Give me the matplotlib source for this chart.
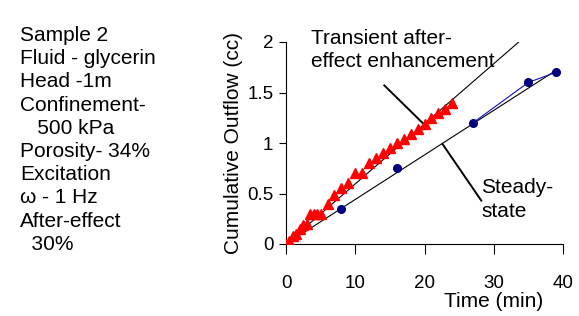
import numpy as np
import matplotlib
matplotlib.use('Agg')
import matplotlib.pyplot as plt

plt.rcParams['font.family'] = ['Liberation Sans', 'DejaVu Sans']

# transient (after-effect) run, red triangles
t_trans = [0, 0.5, 1, 1.5, 2, 2.5, 3, 3.5, 4, 4.5, 5, 6, 7, 8, 9, 10, 11,
           12, 13, 14, 15, 16, 17, 18, 19, 20, 21, 22, 23, 24]
q_trans = [0, 0.03, 0.08, 0.1, 0.15, 0.19, 0.2, 0.3, 0.3, 0.3, 0.3, 0.4, 0.49,
           0.55, 0.6, 0.7, 0.7, 0.8, 0.85, 0.9, 0.95, 1.0, 1.04, 1.09, 1.14,
           1.19, 1.25, 1.3, 1.34, 1.4]

# steady-state run, blue circles
t_steady = [0, 8, 16, 27, 35, 39]
q_steady = [0, 0.35, 0.75, 1.2, 1.6, 1.7]

# fitted trend lines (slope cc/min, end time)
fit_trans = (0.0595, 33.6)
fit_steady = (0.0441, 39.2)

info = ('Sample 2\nFluid - glycerin\nHead -1m\nConfinement-\n   500 kPa\n'
        'Porosity- 34%\nExcitation\nω - 1 Hz\nAfter-effect\n  30%')

fig = plt.figure(figsize=(5.79, 3.16), dpi=100)
ax = fig.add_axes([286/579, 1-244/316, 277/579, 202/316])

for slope, tend in [fit_trans, fit_steady]:
    tt = np.array([0, tend])
    ax.plot(tt, slope*tt, color='black', lw=0.8, zorder=2)

# only the last segments of the blue connector show beside the fit line
ax.plot(t_steady[3:], q_steady[3:], color='#1010c0', lw=0.8, zorder=3)
ax.plot(t_steady, q_steady, ls='none', marker='o', ms=5.5,
        color='#000080', zorder=3)
ax.plot(t_trans, q_trans, ls='none', marker='^', ms=6.5,
        color='#ff0000', zorder=4)

# pointer lines
ax.plot([14.2, 19.7], [1.57, 1.2], color='black', lw=1.4, clip_on=False)
ax.plot([22.6, 28.2], [0.99, 0.43], color='black', lw=1.4, clip_on=False)

ax.text(3.6, 2.13, 'Transient after-\neffect enhancement', fontsize=15,
        va='top', ha='left', linespacing=1.25)
ax.text(28.2, 0.65, 'Steady-\nstate', fontsize=15, va='top', ha='left',
        linespacing=1.3)

ax.set_xlim(0, 40)
ax.set_ylim(0, 2)
ax.set_xticks([0, 10, 20, 30, 40])
ax.set_yticks([0, 0.5, 1, 1.5, 2])
ax.set_yticklabels(['0', '0.5', '1', '1.5', '2'])
ax.tick_params(axis='x', length=7, pad=15, labelsize=13.5)
ax.tick_params(axis='y', length=5, pad=4, labelsize=13.5)
ax.spines['top'].set_visible(False)
ax.spines['right'].set_visible(False)

ax.set_ylabel('Cumulative Outflow (cc)', fontsize=15, labelpad=3)
ax.set_xlabel('Time (min)', fontsize=15)
ax.xaxis.set_label_coords(0.751, -0.24)

fig.text(20/579, 1-26/316, info, fontsize=15, va='top', ha='left',
         linespacing=1.28)

fig.savefig('out.png', dpi=100)
